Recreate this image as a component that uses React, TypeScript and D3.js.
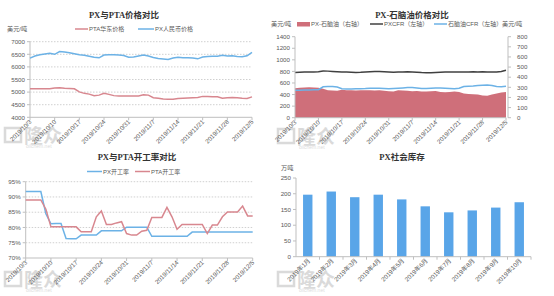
import React from "react";
import * as d3 from "d3";

// trading days shared by the three daily charts
const days = [
  "2019/10/3", "2019/10/4", "2019/10/7", "2019/10/8", "2019/10/9",
  "2019/10/10", "2019/10/11", "2019/10/14", "2019/10/15", "2019/10/16",
  "2019/10/17", "2019/10/18", "2019/10/21", "2019/10/22", "2019/10/23",
  "2019/10/24", "2019/10/25", "2019/10/28", "2019/10/29", "2019/10/30",
  "2019/10/31", "2019/11/1", "2019/11/4", "2019/11/5", "2019/11/6",
  "2019/11/7", "2019/11/8", "2019/11/11", "2019/11/12", "2019/11/13",
  "2019/11/14", "2019/11/15", "2019/11/18", "2019/11/19", "2019/11/20",
  "2019/11/21", "2019/11/22", "2019/11/25", "2019/11/26", "2019/11/27",
  "2019/11/28", "2019/11/29", "2019/12/2", "2019/12/3", "2019/12/4",
  "2019/12/5",
];
const dayTicks = days.filter((_, i) => i % 5 === 0);

// PX与PTA价格对比
const ptaPrice = [
  5130, 5130, 5130, 5130, 5130, 5160, 5170, 5150, 5140, 5130,
  5010, 4950, 4920, 4860, 4880, 4950, 4910, 4860, 4850, 4850,
  4850, 4850, 4850, 4890, 4880, 4780, 4760, 4730, 4720, 4720,
  4750, 4760, 4770, 4780, 4790, 4830, 4830, 4820, 4815, 4760,
  4780, 4790, 4780, 4760, 4750, 4810,
];
const pxRmbPrice = [
  6350, 6430, 6480, 6510, 6540, 6500, 6610, 6590, 6560, 6520,
  6480, 6460, 6420, 6380, 6360, 6470, 6480, 6480, 6475, 6450,
  6380, 6390, 6430, 6470, 6430, 6370, 6330, 6310, 6290, 6350,
  6380, 6360, 6360, 6350, 6320, 6390, 6410, 6420, 6420, 6460,
  6430, 6440, 6410, 6400, 6440, 6580,
];
const priceTicks = [4000, 4500, 5000, 5500, 6000, 6500, 7000];

// PX-石脑油价格对比
const pxCfr = [
  780, 785, 788, 792, 790, 795, 808, 805, 800, 795,
  790, 788, 785, 782, 785, 790, 795, 798, 800, 795,
  790, 785, 788, 792, 795, 790, 785, 780, 778, 775,
  780, 785, 788, 790, 788, 790, 792, 792, 795, 790,
  795, 792, 790, 792, 798, 820,
];
const naphthaCfr = [
  475, 476, 478, 480, 482, 485, 535, 540, 538, 530,
  500, 495, 497, 500, 502, 505, 510, 510, 508, 505,
  500, 505, 510, 515, 520, 520, 515, 505, 505, 510,
  515, 512, 510, 505, 500, 510, 540, 545, 548, 555,
  560, 565, 555, 540, 535, 545,
];
const pxNaphthaSpread = [
  290, 295, 298, 300, 298, 295, 285, 270, 268, 265,
  275, 272, 270, 268, 270, 272, 270, 268, 270, 265,
  262, 258, 270, 268, 265, 262, 264, 260, 258, 262,
  264, 255, 252, 255, 258, 255, 238, 235, 232, 228,
  220, 218, 228, 240, 250, 255,
];
const leftTicks = [0, 200, 400, 600, 800, 1000, 1200, 1400];
const rightTicks = [0, 100, 200, 300, 400, 500, 600, 700, 800];

// PX与PTA开工率对比
const pxRate = [
  91.8, 91.8, 91.8, 91.8, 84.5, 81.2, 81.3, 81.3, 76.4, 76.3,
  76.3, 77.5, 77.5, 77.5, 77.5, 78.9, 78.9, 78.9, 78.9, 78.9,
  80.1, 80.1, 80.1, 80.1, 80.1, 77.1, 77.1, 77.1, 77.1, 77.1,
  77.1, 77.1, 77.1, 78.5, 78.5, 78.5, 78.5, 78.5, 78.5, 78.5,
  78.5, 78.5, 78.5, 78.5, 78.5, 78.5,
];
const ptaRate = [
  89, 89, 89, 89, 86, 80.2, 80.2, 80.2, 80.2, 80.2,
  80.2, 78.6, 78.6, 78.6, 83.5, 85.4, 81, 81, 81.5, 81.9,
  78, 77.5, 77.5, 78.8, 79.1, 83.3, 83.3, 83.3, 86.6, 83.5,
  79.4, 81, 81, 81, 81, 81, 78, 80.8, 80.8, 83.5,
  85.1, 85.1, 85.1, 87, 83.8, 83.8,
];
const rateTicks = [70, 75, 80, 85, 90, 95];

// PX社会库存
const months = [
  "2019年1月", "2019年2月", "2019年3月", "2019年4月", "2019年5月",
  "2019年6月", "2019年7月", "2019年8月", "2019年9月", "2019年10月",
];
const stock = [197, 207, 189, 197, 182, 160, 141, 147, 156, 173];
const stockTicks = [0, 50, 100, 150, 200, 250];

const sans = "'Liberation Sans', 'Noto Sans CJK SC', sans-serif";
const serif = "'Liberation Serif', 'Noto Sans CJK SC', serif";
const axisColor = "#bfbfbf";
const textColor = "#595959";
const blue = "#6cb2e6";
const pink = "#d8878f";

function Title({ x, y, text }) {
  return (
    <text x={x} y={y} textAnchor="middle" fontFamily={serif} fontWeight="bold"
      fontSize={8.5} fill="#333">{text}</text>
  );
}

function LegendLine({ x, y, color, label, w = 13 }) {
  return (
    <g>
      <line x1={x} x2={x + w} y1={y} y2={y} stroke={color} strokeWidth={1.5} />
      <text x={x + w + 1} y={y + 2.2} fontSize={6} fontFamily={sans} fill={textColor}>{label}</text>
    </g>
  );
}

// faint site logo sitting behind the date labels
function Watermark({ x, y }) {
  return (
    <g opacity={0.3}>
      <rect x={x} y={y + 2} width={16} height={14} fill="none" stroke="#888" strokeWidth={2.5} />
      <text x={x + 19} y={y + 17} fontSize={19} fontWeight="bold" fill="#888"
        fontFamily="'Noto Sans CJK SC', sans-serif">隆众</text>
      <text x={x + 21} y={y + 22} fontSize={5} fill="#888" fontFamily={sans}>oilchem.net</text>
    </g>
  );
}

function DateAxis({ x, y, ticks }) {
  return (
    <g>
      <line x1={x.range()[0]} x2={x.range()[1]} y1={y} y2={y} stroke={axisColor} />
      {ticks.map((t) => (
        <g key={t} transform={`translate(${x(t)},${y})`}>
          <line y2={3} stroke={axisColor} />
          <text transform="translate(2,5) rotate(-45)" textAnchor="end" fontSize={6.2}
            fontFamily={sans} fill={textColor}>{t}</text>
        </g>
      ))}
    </g>
  );
}

function LeftAxis({ x, y, ticks, fmt = (d) => String(d), grid = 0 }) {
  const [y0, y1] = y.range();
  return (
    <g>
      <line x1={x} x2={x} y1={y0} y2={y1} stroke={axisColor} />
      {ticks.map((t) => (
        <g key={t}>
          <line x1={x - 3} x2={x} y1={y(t)} y2={y(t)} stroke={axisColor} />
          {grid > 0 && t !== ticks[0] && (
            <line x1={x} x2={grid} y1={y(t)} y2={y(t)} stroke="#d0d0d0" strokeDasharray="1.5,1.5" />
          )}
          <text x={x - 5} y={y(t) + 2.2} textAnchor="end" fontSize={6.2} fontFamily={sans}
            fill={textColor}>{fmt(t)}</text>
        </g>
      ))}
    </g>
  );
}

function PricePanel() {
  const x = d3.scalePoint().domain(days).range([30, 252]);
  const y = d3.scaleLinear().domain([4000, 7000]).range([117.3, 41.7]);
  const line = d3.line<number>().x((_, i) => x(days[i])).y((d) => y(d));
  return (
    <g>
      <Watermark x={5} y={126} />
      <Title x={124} y={18} text="PX与PTA价格对比" />
      <text x={7} y={31} fontSize={6.2} fontFamily={sans} fill={textColor}>美元/吨</text>
      <LegendLine x={75} y={29} color={pink} label="PTA华东价格" />
      <LegendLine x={138} y={29} color={blue} label="PX人民币价格" w={16} />
      <LeftAxis x={30} y={y} ticks={priceTicks} grid={252} />
      <DateAxis x={x} y={117.3} ticks={dayTicks} />
      <path d={line(ptaPrice)} fill="none" stroke={pink} strokeWidth={1.5} />
      <path d={line(pxRmbPrice)} fill="none" stroke={blue} strokeWidth={1.5} />
    </g>
  );
}

function NaphthaPanel() {
  const x = d3.scalePoint().domain(days).range([295, 506]);
  const yl = d3.scaleLinear().domain([0, 1400]).range([117.7, 36.7]);
  const yr = d3.scaleLinear().domain([0, 800]).range([117.7, 36.7]);
  const lineL = d3.line<number>().x((_, i) => x(days[i])).y((d) => yl(d));
  const area = d3.area<number>().x((_, i) => x(days[i])).y0(yr(0)).y1((d) => yr(d));
  return (
    <g>
      <Watermark x={278} y={127} />
      <Title x={412} y={18} text="PX-石脑油价格对比" />
      <text x={271} y={26} fontSize={6.2} fontFamily={sans} fill={textColor}>美元/吨</text>
      <text x={502} y={26} fontSize={6.2} fontFamily={sans} fill={textColor}>美元/吨</text>
      <rect x={297} y={22} width={13} height={4.5} fill="#cf6f7a" />
      <text x={311} y={26.2} fontSize={6} fontFamily={sans} fill={textColor}>PX-石脑油（右轴）</text>
      <LegendLine x={370} y={24} color="#404040" label="PXCFR（左轴）" />
      <LegendLine x={434} y={24} color={blue} label="石脑油CFR（左轴）" />
      <path d={area(pxNaphthaSpread)} fill="#cf6f7a" />
      <path d={lineL(naphthaCfr)} fill="none" stroke={blue} strokeWidth={1.5} />
      <path d={lineL(pxCfr)} fill="none" stroke="#404040" strokeWidth={1.5} />
      <LeftAxis x={295} y={yl} ticks={leftTicks} />
      <line x1={508} x2={508} y1={117.7} y2={36.7} stroke={axisColor} />
      {rightTicks.map((t) => (
        <g key={t}>
          <line x1={508} x2={511} y1={yr(t)} y2={yr(t)} stroke={axisColor} />
          <text x={517} y={yr(t) + 2.2} fontSize={6.2} fontFamily={sans} fill={textColor}>{t}</text>
        </g>
      ))}
      <DateAxis x={x} y={117.7} ticks={dayTicks} />
    </g>
  );
}

function RatePanel() {
  const x = d3.scalePoint().domain(days).range([25.7, 252.7]);
  const y = d3.scaleLinear().domain([70, 95]).range([258, 181.7]);
  const line = d3.line<number>().x((_, i) => x(days[i])).y((d) => y(d));
  return (
    <g>
      <Watermark x={5} y={270} />
      <Title x={137} y={160} text="PX与PTA开工率对比" />
      <LegendLine x={87} y={171.5} color={blue} label="PX开工率" w={15} />
      <LegendLine x={135} y={171.5} color={pink} label="PTA开工率" w={15} />
      <LeftAxis x={25.7} y={y} ticks={rateTicks} fmt={(d) => d + "%"} grid={252.7} />
      <DateAxis x={x} y={258} ticks={dayTicks} />
      <path d={line(pxRate)} fill="none" stroke={blue} strokeWidth={1.5} />
      <path d={line(ptaRate)} fill="none" stroke={pink} strokeWidth={1.5} />
    </g>
  );
}

function StockPanel() {
  const x = d3.scaleBand().domain(months).range([296, 531]).paddingInner(0.6).paddingOuter(0.3);
  const y = d3.scaleLinear().domain([0, 250]).range([256.7, 178]);
  return (
    <g>
      <Watermark x={278} y={270} />
      <Title x={402} y={160} text="PX社会库存" />
      <text x={281} y={170} fontSize={6.2} fontFamily={sans} fill={textColor}>万吨</text>
      <LeftAxis x={296} y={y} ticks={stockTicks} />
      {stock.map((v, i) => (
        <rect key={months[i]} x={x(months[i])} width={x.bandwidth()} y={y(v)}
          height={y(0) - y(v)} fill="#59a5e8" />
      ))}
      <line x1={296} x2={531} y1={256.7} y2={256.7} stroke={axisColor} />
      {months.map((m, i) => {
        const cx = x(m) + x.bandwidth() / 2;
        return (
          <g key={m}>
            <line x1={296 + (235 / 10) * (i + 1)} x2={296 + (235 / 10) * (i + 1)} y1={256.7} y2={259.7} stroke={axisColor} />
            <text transform={`translate(${cx + 3},${261}) rotate(-45)`} textAnchor="end" fontSize={6.2}
              fontFamily={sans} fill={textColor}>{m}</text>
          </g>
        );
      })}
    </g>
  );
}

export default function App() {
  return (
    <div style={{ position: "absolute", left: 0, top: 0 }}>
      <svg width={554} height={296} style={{ display: "block", background: "#fff" }}>
        <PricePanel />
        <NaphthaPanel />
        <RatePanel />
        <StockPanel />
      </svg>
    </div>
  );
}
